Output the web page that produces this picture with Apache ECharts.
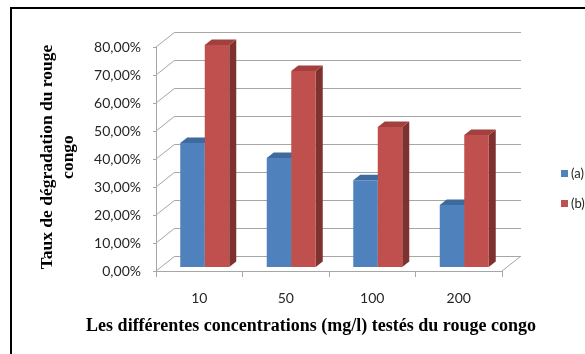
<!DOCTYPE html>
<html>
<head>
<meta charset="utf-8">
<script src="https://cdn.jsdelivr.net/npm/echarts@6/dist/echarts.min.js"></script>
<style>
  html, body { margin: 0; padding: 0; background: #fff; }
  #chart { width: 585px; height: 354px; }
</style>
</head>
<body>
<div id="chart"></div>
<script>
// Concentrations tested (mg/l) and degradation rates (%) for the two conditions
const categories = ['10', '50', '100', '200'];
const seriesNames = ['(a)', '(b)'];
const valuesA = [44.3, 38.9, 31.0, 22.1];
const valuesB = [79.3, 70.0, 50.0, 47.1];
const yTicks = [0, 10, 20, 30, 40, 50, 60, 70, 80];

// Pseudo-3D geometry (pixels)
const DEPTH = [19, -15];      // offset from front plane to back wall
const BAR_SHIFT = [5.5, -4];  // bars sit slightly behind the front plane
const BAR_DEPTH = [7, -5.5];  // thickness of each column
const BAR_W = 24.5;

const palette = {
  a: { front: '#4F81BD', top: '#3F6A9E', side: '#385D8A' },
  b: { front: '#C0504D', top: '#A2403E', side: '#7E3230' }
};
const gridColor = '#A6A6A6';
const pctLabel = v => v.toFixed(2).replace('.', ',') + '%';

const chart = echarts.init(document.getElementById('chart'));

function barRenderer(cols, side) {
  return function (params, api) {
    const i = api.value(0);
    const v = api.value(1);
    const top = api.coord([i, v]);
    const base = api.coord([i, 0]);
    const cx = top[0] + BAR_SHIFT[0];
    const x0 = side < 0 ? cx - BAR_W : cx;
    const x1 = x0 + BAR_W;
    const yT = top[1] + BAR_SHIFT[1];
    const yB = base[1] + BAR_SHIFT[1];
    const dx = BAR_DEPTH[0], dy = BAR_DEPTH[1];
    return {
      type: 'group',
      children: [
        { type: 'polygon', shape: { points: [[x1, yB], [x1 + dx, yB + dy], [x1 + dx, yT + dy], [x1, yT]] },
          style: { fill: cols.side } },
        { type: 'polygon', shape: { points: [[x0, yT], [x0 + dx, yT + dy], [x1 + dx, yT + dy], [x1, yT]] },
          style: { fill: cols.top } },
        { type: 'rect', shape: { x: x0, y: yT, width: BAR_W, height: yB - yT },
          style: { fill: cols.front } }
      ]
    };
  };
}

// Slanted lines joining the front value axis to the back wall, plus the floor edge
function wallRenderer(params, api) {
  const v = api.value(0);
  const cs = params.coordSys;
  const y = api.coord([0, v])[1];
  const children = [{
    type: 'line',
    shape: { x1: cs.x, y1: y, x2: cs.x + DEPTH[0], y2: y + DEPTH[1] },
    style: { stroke: gridColor, lineWidth: 1 }
  }];
  if (v === 0) {
    const xr = cs.x + cs.width;
    children.push({
      type: 'line',
      shape: { x1: xr, y1: y, x2: xr + DEPTH[0], y2: y + DEPTH[1] },
      style: { stroke: gridColor, lineWidth: 1 }
    });
  }
  return { type: 'group', children };
}

const valueAxisBase = { type: 'value', min: 0, max: 80, interval: 10 };

chart.setOption({
  backgroundColor: '#fff',
  animation: false,
  grid: [
    { left: 156, top: 47, width: 346, height: 224 },                          // front plane
    { left: 156 + DEPTH[0], top: 47 + DEPTH[1], width: 346, height: 224 }    // back wall
  ],
  xAxis: [
    {
      type: 'category', data: categories, gridIndex: 0, boundaryGap: true,
      axisLine: { lineStyle: { color: gridColor } },
      axisTick: { show: true, length: 6, lineStyle: { color: gridColor } },
      axisLabel: { color: '#262626', fontFamily: 'Lato', fontSize: 14, margin: 20 }
    },
    {
      type: 'category', data: categories, gridIndex: 1,
      axisLine: { show: false }, axisTick: { show: false }, axisLabel: { show: false }
    }
  ],
  yAxis: [
    Object.assign({}, valueAxisBase, {
      gridIndex: 0,
      axisLine: { show: true, lineStyle: { color: gridColor } },
      axisTick: { show: true, length: 3, lineStyle: { color: gridColor } },
      splitLine: { show: false },
      axisLabel: { formatter: pctLabel, color: '#262626', fontFamily: 'Lato', fontSize: 14, margin: 15 }
    }),
    Object.assign({}, valueAxisBase, {
      gridIndex: 1,
      axisLine: { show: false }, axisTick: { show: false }, axisLabel: { show: false },
      splitLine: { show: true, lineStyle: { color: gridColor, width: 1 } }
    })
  ],
  legend: {
    orient: 'vertical', left: 556, top: 162, itemGap: 17,
    itemWidth: 7, itemHeight: 7, icon: 'rect', itemStyle: { borderWidth: 0 },
    textStyle: { color: '#262626', fontFamily: 'Lato', fontSize: 13, padding: [0, 0, 0, -2] },
    data: seriesNames
  },
  series: [
    {
      type: 'custom', name: 'walls', xAxisIndex: 0, yAxisIndex: 0, silent: true, z: 1,
      data: yTicks.map(v => [v]), encode: { y: 0 }, renderItem: wallRenderer
    },
    {
      type: 'custom', name: seriesNames[0], xAxisIndex: 0, yAxisIndex: 0, z: 3,
      itemStyle: { color: palette.a.front },
      data: valuesA.map((v, i) => [i, v]), encode: { x: 0, y: 1 },
      renderItem: barRenderer(palette.a, -1)
    },
    {
      type: 'custom', name: seriesNames[1], xAxisIndex: 0, yAxisIndex: 0, z: 4,
      itemStyle: { color: palette.b.front },
      data: valuesB.map((v, i) => [i, v]), encode: { x: 0, y: 1 },
      renderItem: barRenderer(palette.b, 1)
    }
  ],
  graphic: [
    { type: 'rect', shape: { x: 11, y: 8, width: 620, height: 400 },
      style: { fill: 'none', stroke: '#000', lineWidth: 2 }, z: 10 },
    { type: 'text', x: 58, y: 157, rotation: Math.PI / 2,
      style: { text: 'Taux de dégradation du rouge\ncongo', align: 'center', verticalAlign: 'middle',
        font: 'bold 17.5px "Liberation Serif"', fill: '#000', lineHeight: 21 } },
    { type: 'text', x: 311, y: 326,
      style: { text: 'Les différentes concentrations (mg/l) testés du rouge congo', align: 'center',
        verticalAlign: 'middle', font: 'bold 18px "Liberation Serif"', fill: '#000' } }
  ]
});
</script>
</body>
</html>
